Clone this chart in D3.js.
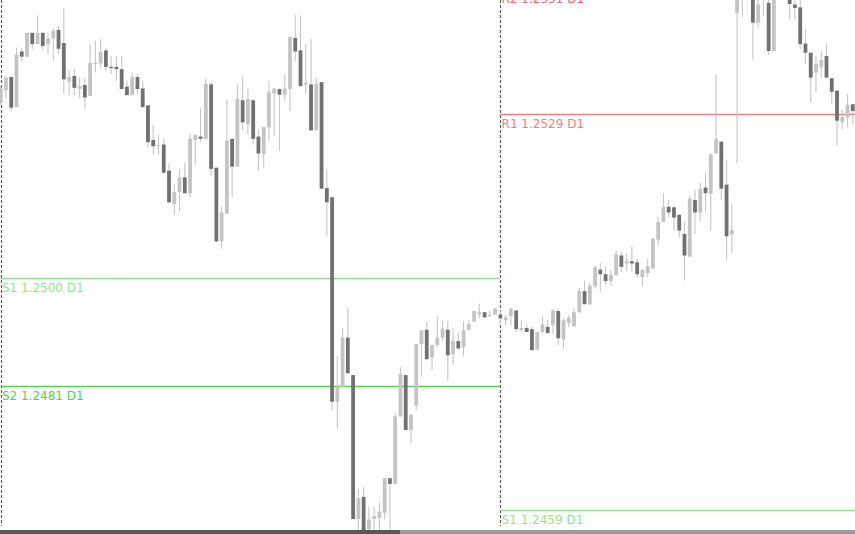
<!DOCTYPE html>
<html>
<head>
<meta charset="utf-8">
<script src="https://cdn.jsdelivr.net/npm/d3@7"></script>
<style>
  html, body { margin: 0; padding: 0; background: #ffffff; }
  svg { display: block; }
</style>
</head>
<body>
<svg id="chart" width="855" height="534"></svg>
<script>
// ---- Data (M15 candles, prices) ----
const open = [
1.25310,1.25332,1.25355,1.25302,1.25400,1.25391,1.25433,1.25413,1.25433,1.25413,
1.25423,1.25438,1.25415,1.25347,1.25357,1.25334,1.25341,1.25322,1.25379,1.25379,
1.25402,1.25373,1.25373,1.25369,1.25338,1.25323,1.25355,1.25335,1.25305,1.25244,
1.25234,1.25236,1.25190,1.25131,1.25152,1.25178,1.25150,1.25244,1.25250,1.25246,
1.25342,1.25195,1.25065,1.25114,1.25246,1.25197,1.25314,1.25272,1.25314,1.25250,
1.25219,1.25266,1.25326,1.25334,1.25324,1.25334,1.25424,1.25402,1.25342,1.25342,
1.25261,1.25346,1.25159,1.25143,1.24782,1.24808,1.24895,1.24829,1.24575,1.24614,
1.24557,1.24575,1.24577,1.24586,1.24647,1.24637,1.24756,1.24829,1.24732,1.24776,
1.24884,1.24909,1.24860,1.24882,1.24895,1.24909,1.24866,1.24889,1.24878,1.24909,
1.24923,1.24936,1.24940,1.24933,1.24936,1.24936,1.24926,1.24933,1.24943,1.24908,
1.24912,1.24910,1.24874,1.24905,1.24914,1.24917,1.24942,1.24892,1.24921,1.24915,
1.24940,1.24977,1.24954,1.24986,1.25015,1.25007,1.24995,1.25005,1.25040,1.25026,
1.25030,1.25028,1.25002,1.25009,1.25017,1.25068,1.25099,1.25126,1.25125,1.25112,
1.25078,1.25038,1.25138,1.25116,1.25160,1.25149,1.25220,1.25241,1.25165,1.25077,
1.25468,1.25496,1.25528,1.25507,1.25451,1.25494,1.25486,1.25401,1.25503,1.25493,
1.25494,1.25483,1.25478,1.25414,1.25398,1.25363,1.25372,1.25392,1.25353,1.25331,
1.25275,1.25284,1.25307];
const high = [
1.25339,1.25357,1.25357,1.25407,1.25406,1.25433,1.25433,1.25464,1.25435,1.25433,
1.25441,1.25445,1.25476,1.25367,1.25369,1.25354,1.25354,1.25413,1.25419,1.25422,
1.25406,1.25392,1.25392,1.25392,1.25349,1.25363,1.25361,1.25348,1.25305,1.25271,
1.25253,1.25247,1.25203,1.25167,1.25193,1.25204,1.25254,1.25253,1.25300,1.25353,
1.25346,1.25195,1.25126,1.25316,1.25246,1.25342,1.25355,1.25334,1.25314,1.25263,
1.25267,1.25348,1.25335,1.25334,1.25360,1.25426,1.25464,1.25464,1.25414,1.25422,
1.25353,1.25346,1.25193,1.25143,1.24862,1.24911,1.24948,1.24829,1.24628,1.24632,
1.24597,1.24597,1.24603,1.24647,1.24647,1.24762,1.24843,1.24829,1.24759,1.24884,
1.24908,1.24923,1.24882,1.24933,1.24925,1.24925,1.24913,1.24905,1.24925,1.24926,
1.24942,1.24955,1.24940,1.24943,1.24948,1.24943,1.24935,1.24948,1.24943,1.24926,
1.24918,1.24914,1.24905,1.24933,1.24927,1.24946,1.24946,1.24929,1.24935,1.24948,
1.24983,1.24996,1.24993,1.25023,1.25027,1.25020,1.25014,1.25049,1.25046,1.25043,
1.25056,1.25034,1.25015,1.25034,1.25070,1.25108,1.25150,1.25138,1.25128,1.25112,
1.25099,1.25146,1.25156,1.25169,1.25187,1.25219,1.25360,1.25241,1.25209,1.25130,
1.25515,1.25533,1.25538,1.25514,1.25494,1.25515,1.25493,1.25503,1.25510,1.25510,
1.25503,1.25493,1.25491,1.25439,1.25398,1.25392,1.25401,1.25414,1.25353,1.25331,
1.25297,1.25325,1.25307];
const low = [
1.25306,1.25318,1.25295,1.25302,1.25382,1.25391,1.25404,1.25413,1.25403,1.25396,
1.25385,1.25396,1.25325,1.25322,1.25322,1.25318,1.25298,1.25322,1.25363,1.25372,
1.25366,1.25361,1.25348,1.25334,1.25323,1.25323,1.25325,1.25302,1.25231,1.25219,
1.25218,1.25185,1.25132,1.25112,1.25118,1.25150,1.25143,1.25200,1.25241,1.25246,
1.25181,1.25064,1.25052,1.25114,1.25143,1.25197,1.25261,1.25254,1.25236,1.25190,
1.25196,1.25243,1.25251,1.25225,1.25313,1.25295,1.25383,1.25339,1.25325,1.25261,
1.25261,1.25158,1.25075,1.24767,1.24735,1.24808,1.24832,1.24575,1.24556,1.24530,
1.24539,1.24556,1.24556,1.24574,1.24556,1.24637,1.24756,1.24732,1.24709,1.24767,
1.24826,1.24855,1.24838,1.24878,1.24889,1.24819,1.24847,1.24873,1.24862,1.24908,
1.24923,1.24929,1.24929,1.24932,1.24936,1.24920,1.24917,1.24917,1.24906,1.24906,
1.24905,1.24873,1.24873,1.24902,1.24903,1.24902,1.24882,1.24876,1.24914,1.24915,
1.24939,1.24954,1.24952,1.24982,1.24976,1.24987,1.24987,1.25005,1.25011,1.25013,
1.25011,1.25002,1.24986,1.25002,1.25017,1.25058,1.25099,1.25108,1.25084,1.25072,
1.24996,1.25038,1.25078,1.25099,1.25116,1.25084,1.25220,1.25138,1.25033,1.25044,
1.25203,1.25461,1.25496,1.25386,1.25442,1.25463,1.25394,1.25401,1.25491,1.25491,
1.25457,1.25457,1.25404,1.25378,1.25310,1.25328,1.25354,1.25354,1.25307,1.25234,
1.25263,1.25266,1.25272];
const close = [
1.25335,1.25354,1.25301,1.25395,1.25391,1.25433,1.25413,1.25433,1.25410,1.25423,
1.25436,1.25405,1.25351,1.25355,1.25336,1.25339,1.25319,1.25380,1.25380,1.25399,
1.25373,1.25372,1.25369,1.25334,1.25323,1.25355,1.25334,1.25302,1.25240,1.25233,
1.25235,1.25186,1.25134,1.25152,1.25178,1.25150,1.25246,1.25253,1.25246,1.25343,
1.25193,1.25065,1.25116,1.25243,1.25197,1.25316,1.25275,1.25316,1.25246,1.25220,
1.25267,1.25328,1.25335,1.25324,1.25335,1.25426,1.25400,1.25339,1.25345,1.25261,
1.25343,1.25158,1.25134,1.24782,1.24808,1.24895,1.24832,1.24575,1.24612,1.24542,
1.24574,1.24580,1.24588,1.24647,1.24637,1.24756,1.24831,1.24732,1.24759,1.24884,
1.24908,1.24857,1.24882,1.24895,1.24911,1.24864,1.24889,1.24876,1.24908,1.24919,
1.24942,1.24940,1.24931,1.24935,1.24946,1.24929,1.24931,1.24946,1.24910,1.24912,
1.24905,1.24873,1.24905,1.24918,1.24903,1.24943,1.24894,1.24926,1.24930,1.24940,
1.24977,1.24954,1.24987,1.25019,1.25007,1.24995,1.25006,1.25042,1.25020,1.25030,
1.25026,1.25007,1.25015,1.25021,1.25070,1.25099,1.25126,1.25116,1.25107,1.25084,
1.25040,1.25140,1.25116,1.25158,1.25150,1.25219,1.25246,1.25158,1.25074,1.25085,
1.25503,1.25521,1.25503,1.25451,1.25483,1.25507,1.25401,1.25496,1.25494,1.25503,
1.25484,1.25477,1.25413,1.25398,1.25354,1.25378,1.25385,1.25354,1.25329,1.25278,
1.25284,1.25306,1.25295];

// Daily pivot levels (name, value, day section)
const levelNames  = ["S1", "S2", "R2", "R1", "S1"];
const levelValues = [1.2500, 1.2481, 1.2551, 1.2529, 1.2459];
const levelDay    = [0, 0, 1, 1, 1];
// Period separators (candle index where each day starts)
const separators = [0, 95];

// ---- Layout / styles ----
const W = 855, H = 534;
const bullColor = "#c4c4c4", bearColor = "#717171", wickColor = "#c6c6c6";
const levelColor = { S1: "#8fe68f", S2: "#55d055", R1: "#f08080", R2: "#f06a6a" };

const svg = d3.select("#chart");
const x = d3.scaleLinear().domain([0, open.length - 1]).range([0.7, 852.8]);
const y = d3.scaleLinear().domain([1.2454849, 1.25491]).range([H, 0]);
const bodyW = 3.8;

const candles = open.map((o, i) => ({ i, o, h: high[i], l: low[i], c: close[i] }));

// separators
svg.append("g").selectAll("line").data(separators).join("line")
  .attr("x1", d => Math.round(x(d)) + 0.5)
  .attr("x2", d => Math.round(x(d)) + 0.5)
  .attr("y1", 0).attr("y2", 526)
  .attr("stroke", "#5a5a5a").attr("stroke-width", 1.2)
  .attr("stroke-dasharray", "3,2");

// pivot lines
const dayStart = d => x(separators[d]);
const dayEnd = d => d + 1 < separators.length ? x(separators[d + 1]) : W;
const levels = levelNames.map((n, k) => ({ n, v: levelValues[k], d: levelDay[k] }));
const lg = svg.append("g");
lg.selectAll("line").data(levels).join("line")
  .attr("x1", d => dayStart(d.d)).attr("x2", d => dayEnd(d.d))
  .attr("y1", d => Math.round(y(d.v)) + 0.5).attr("y2", d => Math.round(y(d.v)) + 0.5)
  .attr("stroke", d => levelColor[d.n]).attr("stroke-width", 1.3);
lg.selectAll("text").data(levels).join("text")
  .attr("x", d => dayStart(d.d) + 1.2)
  .attr("y", d => Math.round(y(d.v)) + 13.5)
  .attr("fill", d => levelColor[d.n])
  .attr("font-family", "'DejaVu Sans', sans-serif")
  .attr("font-size", 12)
  .text(d => `${d.n} ${d.v.toFixed(4)} D1`);

// candles
const cg = svg.append("g");
cg.selectAll("line").data(candles).join("line")
  .attr("x1", d => x(d.i)).attr("x2", d => x(d.i))
  .attr("y1", d => y(d.h)).attr("y2", d => y(d.l))
  .attr("stroke", wickColor).attr("stroke-width", 1.1);
cg.selectAll("rect").data(candles).join("rect")
  .attr("x", d => x(d.i) - bodyW / 2)
  .attr("width", bodyW)
  .attr("y", d => y(Math.max(d.o, d.c)))
  .attr("height", d => Math.max(1.2, Math.abs(y(d.o) - y(d.c))))
  .attr("fill", d => d.c >= d.o ? bullColor : bearColor);

// bottom strip
svg.append("rect").attr("x", 0).attr("y", 530).attr("width", 400).attr("height", 4).attr("fill", "#575757");
svg.append("rect").attr("x", 400).attr("y", 530).attr("width", W - 400).attr("height", 4).attr("fill", "#9a9a9a");
</script>
</body>
</html>
